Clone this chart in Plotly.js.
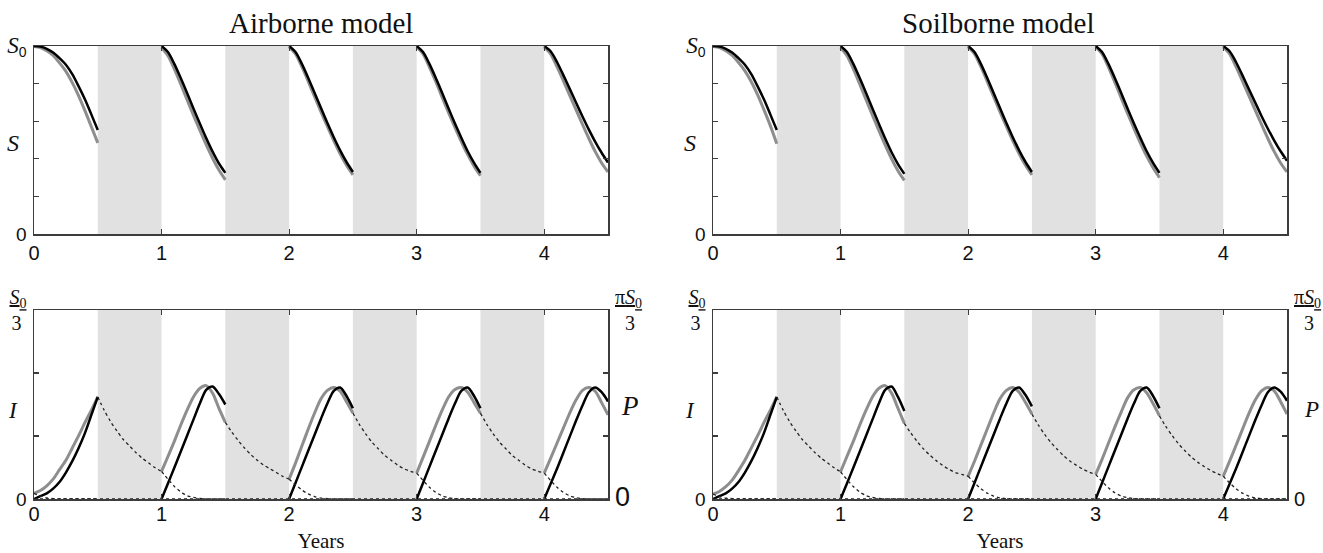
<!DOCTYPE html>
<html><head><meta charset="utf-8">
<script src="https://cdn.plot.ly/plotly-3.0.1.min.js"></script>
<style>html,body{margin:0;padding:0;background:#fff}</style>
</head><body><div id="chart" style="width:1323px;height:553px"></div>
<script>
// ---------- data ----------
const seasonStarts = [0, 1, 2, 3, 4];
const winterStarts = [0.5, 1.5, 2.5, 3.5];
const offsets = [0, 0.05, 0.1, 0.15, 0.2, 0.25, 0.3, 0.35, 0.4, 0.45, 0.5];
const winters = [[0.5, 1], [1.5, 2], [2.5, 3], [3.5, 4]];
const yearTicks = [0, 1, 2, 3, 4];
const yearLabels = ['0', '1', '2', '3', '4'];

// S as fraction of S0, one row per growing season
const airS_black = [
  [1.000,0.997,0.985,0.965,0.935,0.900,0.850,0.785,0.715,0.635,0.553],
  [1.000,0.968,0.905,0.830,0.750,0.668,0.588,0.510,0.438,0.375,0.325],
  [1.000,0.968,0.905,0.830,0.750,0.670,0.590,0.515,0.445,0.383,0.330],
  [1.000,0.968,0.905,0.830,0.750,0.668,0.588,0.512,0.440,0.378,0.325],
  [1.000,0.972,0.915,0.845,0.772,0.698,0.625,0.555,0.490,0.432,0.380]];
const airS_gray = [
  [0.998,0.992,0.975,0.950,0.910,0.865,0.805,0.735,0.655,0.570,0.485],
  [0.990,0.948,0.878,0.798,0.715,0.632,0.552,0.475,0.403,0.340,0.288],
  [0.995,0.958,0.890,0.812,0.730,0.650,0.572,0.497,0.427,0.366,0.315],
  [0.995,0.958,0.888,0.810,0.727,0.646,0.567,0.492,0.422,0.361,0.310],
  [0.995,0.958,0.890,0.815,0.737,0.660,0.583,0.508,0.438,0.378,0.330]];
const soilS_black = [
  [1.000,0.997,0.985,0.965,0.935,0.900,0.850,0.785,0.715,0.635,0.553],
  [1.000,0.968,0.905,0.830,0.750,0.668,0.587,0.508,0.435,0.372,0.320],
  [1.000,0.968,0.905,0.830,0.750,0.670,0.590,0.515,0.445,0.383,0.330],
  [1.000,0.968,0.905,0.830,0.750,0.668,0.588,0.512,0.440,0.378,0.325],
  [1.000,0.972,0.915,0.845,0.772,0.700,0.628,0.560,0.497,0.440,0.390]];
const soilS_gray = [
  [0.998,0.992,0.975,0.950,0.912,0.868,0.810,0.740,0.660,0.575,0.480],
  [0.990,0.948,0.878,0.798,0.715,0.632,0.551,0.473,0.400,0.337,0.285],
  [0.995,0.958,0.890,0.812,0.730,0.650,0.572,0.497,0.427,0.366,0.315],
  [0.995,0.958,0.888,0.808,0.724,0.642,0.562,0.485,0.414,0.352,0.300],
  [0.995,0.958,0.890,0.815,0.737,0.660,0.583,0.508,0.438,0.378,0.330]];

// I (and P) in units of S0/3 (and pi*S0/3)
const airI_gray = [
  [0.030,0.045,0.070,0.105,0.155,0.205,0.270,0.335,0.405,0.470,0.540],
  [0.146,0.225,0.305,0.390,0.470,0.540,0.585,0.600,0.560,0.480,0.405],
  [0.105,0.190,0.280,0.370,0.455,0.530,0.575,0.590,0.570,0.515,0.455],
  [0.137,0.220,0.305,0.390,0.470,0.540,0.580,0.590,0.565,0.510,0.454],
  [0.137,0.215,0.295,0.375,0.455,0.525,0.575,0.590,0.570,0.510,0.445]];
const airI_black = [
  [0.000,0.015,0.030,0.055,0.090,0.140,0.200,0.270,0.350,0.445,0.540],
  [0.000,0.082,0.165,0.250,0.335,0.420,0.505,0.578,0.595,0.555,0.500],
  [0.000,0.085,0.170,0.255,0.340,0.425,0.505,0.572,0.590,0.545,0.480],
  [0.000,0.085,0.170,0.255,0.340,0.425,0.505,0.572,0.590,0.545,0.480],
  [0.000,0.080,0.160,0.245,0.330,0.415,0.495,0.565,0.590,0.565,0.516]];
const airP_season = [
  [0.030,0.015,0.006,0.002,0,0,0,0,0,0,0],
  [0.146,0.105,0.067,0.038,0.018,0.008,0.003,0.001,0,0,0],
  [0.105,0.075,0.048,0.027,0.013,0.005,0.002,0,0,0,0],
  [0.137,0.098,0.062,0.035,0.017,0.007,0.002,0,0,0,0],
  [0.137,0.098,0.062,0.035,0.017,0.007,0.002,0,0,0,0]];
const airP_winter = [
  [0.540,0.470,0.410,0.360,0.315,0.280,0.245,0.215,0.190,0.165,0.146],
  [0.405,0.355,0.310,0.270,0.235,0.205,0.180,0.160,0.140,0.120,0.105],
  [0.455,0.395,0.345,0.300,0.265,0.230,0.205,0.180,0.160,0.147,0.137],
  [0.454,0.395,0.345,0.300,0.265,0.230,0.205,0.180,0.160,0.147,0.137]];

const soilI_gray = [
  [0.026,0.040,0.065,0.100,0.150,0.205,0.270,0.335,0.405,0.470,0.540],
  [0.144,0.225,0.305,0.390,0.470,0.540,0.585,0.600,0.560,0.480,0.400],
  [0.120,0.200,0.285,0.370,0.455,0.530,0.575,0.590,0.565,0.510,0.450],
  [0.130,0.210,0.295,0.380,0.460,0.535,0.578,0.590,0.562,0.505,0.440],
  [0.120,0.200,0.283,0.367,0.450,0.522,0.572,0.590,0.572,0.515,0.450]];
const soilI_black = [
  [0.000,0.015,0.030,0.055,0.090,0.140,0.200,0.270,0.350,0.445,0.540],
  [0.000,0.082,0.165,0.250,0.335,0.420,0.505,0.578,0.595,0.540,0.465],
  [0.000,0.085,0.170,0.255,0.340,0.425,0.505,0.572,0.590,0.550,0.490],
  [0.000,0.085,0.170,0.255,0.340,0.425,0.505,0.572,0.590,0.545,0.480],
  [0.000,0.080,0.160,0.245,0.330,0.415,0.495,0.565,0.590,0.568,0.520]];
const soilP_season = [
  [0.026,0.013,0.005,0.002,0,0,0,0,0,0,0],
  [0.144,0.103,0.066,0.037,0.018,0.008,0.003,0.001,0,0,0],
  [0.120,0.086,0.055,0.031,0.015,0.006,0.002,0,0,0,0],
  [0.130,0.093,0.059,0.033,0.016,0.007,0.002,0,0,0,0],
  [0.120,0.086,0.055,0.031,0.015,0.006,0.002,0,0,0,0]];
const soilP_winter = [
  [0.540,0.470,0.410,0.360,0.315,0.280,0.245,0.215,0.190,0.165,0.144],
  [0.400,0.350,0.305,0.265,0.232,0.203,0.178,0.157,0.140,0.130,0.120],
  [0.450,0.392,0.342,0.298,0.262,0.228,0.200,0.178,0.158,0.142,0.130],
  [0.440,0.384,0.335,0.292,0.255,0.222,0.195,0.172,0.152,0.135,0.120]];

const pZeroX = [0, 4.5];
const pZeroY = [0, 0];

// ---------- build ----------
function segs(starts, rows) {
  const x = [], y = [];
  rows.forEach((row, i) => {
    row.forEach((v, j) => { x.push(starts[i] + offsets[j]); y.push(v); });
    x.push(null); y.push(null);
  });
  return {x, y};
}
const GRAY = '#8e8e8e', BLACK = '#000000';
function line(d, color, width, xa, ya, dash) {
  return {type: 'scatter', mode: 'lines', x: d.x, y: d.y, xaxis: xa, yaxis: ya,
    connectgaps: false, hoverinfo: 'skip', showlegend: false,
    line: {color: color, width: width, shape: 'spline', smoothing: 0.8, dash: dash || 'solid'}};
}

const traces = [
  line(segs(seasonStarts, airS_gray), GRAY, 3, 'x', 'y'),
  line(segs(seasonStarts, airS_black), BLACK, 2.5, 'x', 'y'),
  line(segs(seasonStarts, soilS_gray), GRAY, 3, 'x3', 'y3'),
  line(segs(seasonStarts, soilS_black), BLACK, 2.5, 'x3', 'y3'),
  line(segs(seasonStarts, airI_gray), GRAY, 3, 'x2', 'y2'),
  line(segs(seasonStarts, airI_black), BLACK, 2.5, 'x2', 'y2'),
  line(segs(seasonStarts, soilI_gray), GRAY, 3, 'x4', 'y4'),
  line(segs(seasonStarts, soilI_black), BLACK, 2.5, 'x4', 'y4'),
  line(segs(seasonStarts, airP_season), '#222', 1.3, 'x2', 'y5', 'dot'),
  line(segs(winterStarts, airP_winter), '#222', 1.3, 'x2', 'y5', 'dot'),
  line({x: pZeroX, y: pZeroY}, '#222', 1.3, 'x2', 'y5', 'dot'),
  line(segs(seasonStarts, soilP_season), '#222', 1.3, 'x4', 'y6', 'dot'),
  line(segs(winterStarts, soilP_winter), '#222', 1.3, 'x4', 'y6', 'dot'),
  line({x: pZeroX, y: pZeroY}, '#222', 1.3, 'x4', 'y6', 'dot')
];

const W = 1323, H = 553;
const colL = [34 / W, 608 / W], colR = [713 / W, 1287 / W];
const rowTop = [1 - 234 / H, 1 - 46 / H], rowBot = [1 - 499 / H, 1 - 310 / H];

const SANS = 'Liberation Sans', SERIF = 'Liberation Serif';
const INK = '#3c3c3c';
const frame = {showline: true, linecolor: INK, linewidth: 1.5, mirror: 'ticks',
  ticks: 'inside', ticklen: 5, tickwidth: 1.2, tickcolor: INK,
  showgrid: false, zeroline: false, fixedrange: true};

function xax(dom, anchor, standoff, title) {
  const a = Object.assign({}, frame, {domain: dom, anchor: anchor, range: [0, 4.5],
    tickmode: 'array', tickvals: yearTicks, ticktext: yearLabels,
    tickfont: {family: SANS, size: 20, color: '#111'}, ticklabelstandoff: standoff});
  if (title) a.title = {text: title, font: {family: SERIF, size: 21, color: '#111'}, standoff: 26};
  return a;
}
const sLabelVals = [0, 1];
const sLabels = ['<span style="font-size:19px">0</span>',
  '<span style="font-family:' + SERIF + ';font-size:23px"><i>S</i></span><sub>0</sub>'];
const sMinorStep = 0.2;
const iLabelVals = [0, 1];
const iLabels = ['<span style="font-family:' + SANS + ';font-size:19px">0</span>',
  '<u><i>S</i><sub>0</sub></u><br>3\u00a0'];
const iMinorStep = 1 / 3;
function minorTicks(step) {
  return {tick0: 0, dtick: step, ticks: 'inside', ticklen: 5, tickwidth: 1.2, tickcolor: INK, showgrid: false};
}
function ySax(dom, anchor) {
  return Object.assign({}, frame, {domain: dom, anchor: anchor, range: [0, 1],
    tickmode: 'array', tickvals: sLabelVals, ticktext: sLabels, minor: minorTicks(sMinorStep),
    tickfont: {family: SANS, size: 20, color: '#111'}, ticklabelstandoff: 2});
}
function yIax(dom, anchor) {
  return Object.assign({}, frame, {domain: dom, anchor: anchor, range: [0, 1],
    tickmode: 'array', tickvals: iLabelVals, ticktext: iLabels, minor: minorTicks(iMinorStep),
    tickfont: {family: SERIF, size: 20, color: '#111'}, ticklabelstandoff: 2});
}
function yPax(over, anchor, zeroSize) {
  return {overlaying: over, side: 'right', anchor: anchor, range: [0, 1],
    tickmode: 'array', tickvals: [0, 1],
    ticktext: ['<span style="font-family:' + SANS + ';font-size:' + zeroSize + 'px">0</span>',
      '<u>π<i>S</i><sub>0</sub></u><br>\u00a0\u00a03'],
    tickfont: {family: SERIF, size: 20, color: '#111'},
    showline: false, ticks: '', showgrid: false, zeroline: false, fixedrange: true,
    ticklabelstandoff: 6};
}

const shapes = [];
[['x', 'y'], ['x2', 'y2'], ['x3', 'y3'], ['x4', 'y4']].forEach(([xa, ya]) => {
  winters.forEach(([a, b]) => shapes.push({type: 'rect', xref: xa, yref: ya + ' domain',
    x0: a, x1: b, y0: 0, y1: 1, fillcolor: '#e1e1e1', line: {width: 0}, layer: 'below'}));
});

function ann(text, x, y, font) {
  return {text: text, x: x / W, y: 1 - y / H, xref: 'paper', yref: 'paper',
    xanchor: 'center', yanchor: 'middle', showarrow: false, font: font};
}
const annotations = [
  ann('Airborne model', 321, 23, {family: SERIF, size: 29, color: '#111'}),
  ann('Soilborne model', 999, 23, {family: SERIF, size: 29, color: '#111'}),
  ann('<i>S</i>', 13, 143, {family: SERIF, size: 24, color: '#111'}),
  ann('<i>S</i>', 690, 143, {family: SERIF, size: 24, color: '#111'}),
  ann('<i>I</i>', 13, 410, {family: SERIF, size: 23, color: '#111'}),
  ann('<i>I</i>', 690, 410, {family: SERIF, size: 23, color: '#111'}),
  ann('<i>P</i>', 630, 406, {family: SERIF, size: 27, color: '#111'}),
  ann('<i>P</i>', 1311, 409, {family: SERIF, size: 23, color: '#111'})
];

const layout = {
  width: W, height: H, margin: {l: 0, r: 0, t: 0, b: 0},
  paper_bgcolor: '#fff', plot_bgcolor: 'rgba(0,0,0,0)', showlegend: false,
  xaxis: xax(colL, 'y', 0), yaxis: ySax(rowTop, 'x'),
  xaxis2: xax(colL, 'y2', -4, 'Years'), yaxis2: yIax(rowBot, 'x2'),
  xaxis3: xax(colR, 'y3', 0), yaxis3: ySax(rowTop, 'x3'),
  xaxis4: xax(colR, 'y4', -4, 'Years'), yaxis4: yIax(rowBot, 'x4'),
  yaxis5: yPax('y2', 'x2', 27), yaxis6: yPax('y4', 'x4', 20),
  shapes: shapes, annotations: annotations
};

Plotly.newPlot('chart', traces, layout, {displayModeBar: false, staticPlot: true});
</script></body></html>
